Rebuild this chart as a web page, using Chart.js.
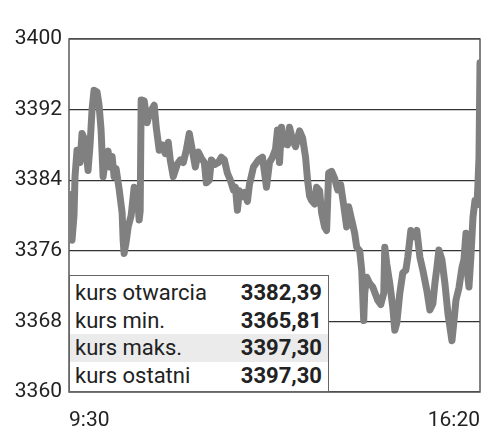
<!DOCTYPE html>
<html>
<head>
<meta charset="utf-8">
<script src="https://cdn.jsdelivr.net/npm/chart.js@4/dist/chart.umd.min.js"></script>
<style>
    body { margin: 0; background: #fff; }
    .wrap { position: relative; width: 500px; height: 447px; }
    .statsBox {
        position: absolute; left: 69px; top: 275px; width: 260px; height: 117px;
        box-sizing: border-box; border: 1.5px solid #666; background: #fff;
        padding-top: 3px; font-family: Roboto, sans-serif; font-size: 22px; color: #222;
    }
    .statsRow { display: flex; justify-content: space-between; height: 27.5px; line-height: 27.5px; padding: 0 6px 0 5px; }
    .statsRow.marked { background: #ebebeb; }
    .statsRow b { font-weight: 700; }
</style>
</head>
<body>
<div class="wrap">
    <canvas id="chart" width="500" height="447"></canvas>
    <div class="statsBox" id="stats"></div>
</div>
<script>
// minutes after 9:30 and index value (intraday)
const minutes = [0, 2, 3, 5, 6, 8, 11, 13, 16, 19, 21, 23, 25, 28, 30, 32, 34, 36, 39, 41, 43, 45, 47, 50, 53, 54, 55, 57, 59, 62,
    65, 68, 70, 71, 72, 75, 78, 80, 85, 87, 90, 93, 96, 99, 101, 104, 108, 111, 114, 117, 120, 123, 126, 129, 132, 135, 137, 140,
    142, 146, 149, 152, 155, 158, 161, 164, 166, 168, 170, 172, 175, 178, 180, 184, 189, 193, 197, 200, 203, 206, 208, 210, 212,
    214, 218, 220, 223, 226, 230, 233, 236, 238, 240, 242, 245, 247, 250, 252, 255, 257, 259, 262, 265, 268, 271, 274, 277, 279,
    282, 285, 287, 290, 292, 294, 295, 297, 300, 303, 306, 308, 311, 314, 315, 317, 320, 323, 325, 327, 330, 333, 336, 338, 341,
    344, 347, 350, 353, 357, 360, 363, 365, 367, 369, 372, 375, 378, 382, 384, 386, 389, 392, 394, 396, 398, 399, 401, 403, 405,
    407, 408, 409, 410];
const prices = [3382.4, 3381.0, 3377.2, 3380.0, 3384.4, 3387.4, 3386.0, 3389.3, 3388.5, 3385.1, 3388.0, 3392.0, 3394.2, 3394.0,
    3392.5, 3389.7, 3384.4, 3386.0, 3387.3, 3385.5, 3386.7, 3384.4, 3385.3, 3383.0, 3380.3, 3377.2, 3375.7, 3377.0, 3378.7, 3380.0,
    3383.2, 3382.5, 3379.5, 3380.5, 3393.1, 3393.0, 3390.5, 3391.5, 3392.5, 3390.0, 3387.4, 3388.0, 3387.0, 3388.3, 3386.3, 3384.4,
    3385.8, 3386.3, 3386.0, 3387.4, 3389.3, 3387.4, 3385.5, 3387.2, 3386.5, 3386.0, 3383.7, 3384.0, 3386.3, 3385.8, 3386.0, 3386.6,
    3386.3, 3384.8, 3384.0, 3382.9, 3383.2, 3380.6, 3382.8, 3382.1, 3382.6, 3381.6, 3383.5, 3385.5, 3386.3, 3386.6, 3383.2, 3386.0,
    3386.6, 3387.5, 3389.7, 3386.0, 3390.0, 3388.2, 3388.0, 3390.0, 3388.6, 3387.8, 3389.6, 3388.8, 3386.6, 3384.0, 3382.2, 3381.7,
    3381.3, 3383.2, 3382.8, 3380.3, 3378.7, 3378.3, 3384.8, 3385.0, 3384.2, 3382.9, 3383.5, 3381.2, 3378.7, 3381.0, 3379.5, 3378.0,
    3376.4, 3376.0, 3373.8, 3368.1, 3371.2, 3373.0, 3372.3, 3371.9, 3371.0, 3370.4, 3369.9, 3371.2, 3376.4, 3374.5, 3372.3, 3369.6,
    3367.0, 3367.8, 3371.2, 3373.5, 3373.8, 3375.3, 3378.3, 3377.6, 3378.3, 3375.3, 3373.8, 3371.5, 3369.3, 3370.0, 3372.3, 3374.1,
    3376.1, 3375.0, 3372.3, 3368.9, 3365.8, 3368.0, 3370.4, 3371.8, 3374.1, 3375.0, 3378.0, 3373.0, 3371.9, 3375.5, 3379.8, 3381.7,
    3381.2, 3383.7, 3386.6, 3397.3];

const xTickValues = [0, 410];
const xTickLabels = ["9:30", "16:20"];
const yTicks = [3360, 3368, 3376, 3384, 3392, 3400];

const statLabels = ["kurs otwarcia", "kurs min.", "kurs maks.", "kurs ostatni"];
const statValues = [3382.39, 3365.81, 3397.30, 3397.30];
const markedRow = 2;

const fontFamily = "Roboto, sans-serif";

const frame = {
    id: "frame",
    beforeDatasetsDraw(chart) {
        const {ctx, chartArea: a} = chart;
        ctx.save();
        ctx.strokeStyle = "#5a5a5a";
        ctx.lineWidth = 1.5;
        ctx.strokeRect(a.left, a.top, a.right - a.left, a.bottom - a.top);
        ctx.restore();
    }
};

const statsBox = document.getElementById("stats");
statLabels.forEach((label, i) => {
    const row = document.createElement("div");
    row.className = "statsRow" + (i === markedRow ? " marked" : "");
    const name = document.createElement("span");
    name.textContent = label;
    const val = document.createElement("b");
    val.textContent = statValues[i].toFixed(2).replace(".", ",");
    row.appendChild(name);
    row.appendChild(val);
    statsBox.appendChild(row);
});

new Chart(document.getElementById("chart").getContext("2d"), {
    type: "line",
    data: {
        datasets: [{
            data: minutes.map((m, i) => ({x: m, y: prices[i]})),
            borderColor: "#808080",
            borderWidth: 7,
            borderCapStyle: "round",
            borderJoinStyle: "round",
            pointRadius: 0,
            tension: 0,
            fill: false
        }]
    },
    options: {
        responsive: false,
        animation: false,
        layout: {padding: {top: 39, right: 20, left: 0, bottom: 0}},
        plugins: {legend: {display: false}, tooltip: {enabled: false}},
        scales: {
            x: {
                type: "linear",
                min: 0,
                max: 410,
                afterBuildTicks: scale => { scale.ticks = xTickValues.map(v => ({value: v})); },
                afterFit: scale => { scale.height = 55; },
                grid: {display: false, drawTicks: false},
                border: {display: false},
                ticks: {
                    autoSkip: false,
                    maxRotation: 0,
                    align: "inner",
                    padding: 16,
                    color: "#222",
                    font: {family: fontFamily, size: 21},
                    callback: v => xTickLabels[xTickValues.indexOf(v)]
                }
            },
            y: {
                min: 3360,
                max: 3400,
                afterBuildTicks: scale => { scale.ticks = yTicks.map(v => ({value: v})); },
                afterFit: scale => { scale.width = 69; },
                grid: {color: "#333", lineWidth: 1.3, drawTicks: false},
                border: {display: false},
                ticks: {
                    padding: 7,
                    color: "#222",
                    font: {family: fontFamily, size: 21},
                    callback: v => String(v)
                }
            }
        }
    },
    plugins: [frame]
});
</script>
</body>
</html>
